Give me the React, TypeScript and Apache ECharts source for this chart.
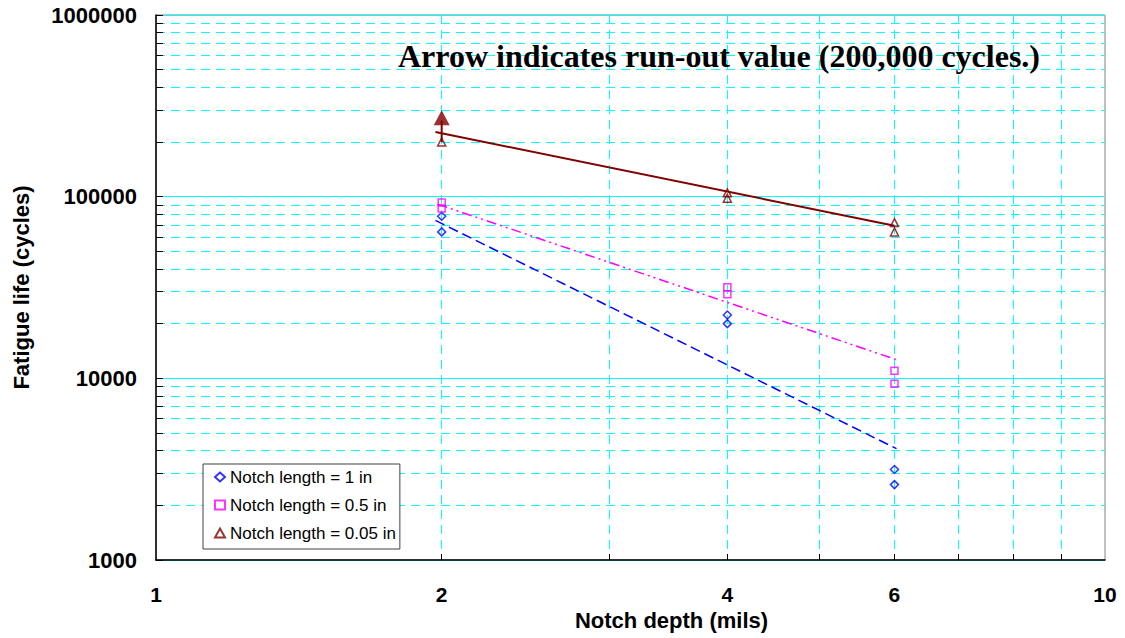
import React, { useEffect, useRef } from "react";
import * as echarts from "echarts";

// Notch depth (mils) axis: minor grid/tick positions and labelled values
const depthTicks = [2, 3, 4, 5, 6, 7, 8, 9];
const depthLabels = [1, 2, 4, 6, 10];

// Fatigue life (cycles) axis: labelled decades and minor grid values
const lifeDecades = [1000, 10000, 100000, 1000000];
const lifeMinor = [
  2000, 3000, 4000, 5000, 6000, 7000, 8000, 9000,
  20000, 30000, 40000, 50000, 60000, 70000, 80000, 90000,
  200000, 300000, 400000, 500000, 600000, 700000, 800000, 900000,
];

// Test results: [notch depth (mils), fatigue life (cycles)]
const notch1in: [number, number][] = [
  [2, 78000], [2, 64000],
  [4, 22300], [4, 20000],
  [6, 3150], [6, 2600],
];
const notch05in: [number, number][] = [
  [2, 93000], [2, 86000],
  [4, 31700], [4, 29000],
  [6, 11000], [6, 9350],
];
const notch005in: [number, number][] = [
  [2, 200000],
  [4, 105000], [4, 98000],
  [6, 72000], [6, 64000],
];

// Power-law trend lines (end points)
const trend1in: [number, number][] = [[1.97, 74000], [6.03, 4100]];
const trend05in: [number, number][] = [[1.98, 91000], [6.02, 12700]];
const trend005in: [number, number][] = [[1.97, 227000], [6, 69200]];

// Run-out arrow: shaft from the run-out value, head above it
const runOutShaft: [number, number][] = [[2, 200000], [2, 262000]];
const runOutHead: [number, number][] = [[2, 272000]];

const names = ["Notch length = 1 in", "Notch length = 0.5 in", "Notch length = 0.05 in"];

const SANS = '"Liberation Sans", Arial, sans-serif';
const SERIF = '"Liberation Serif", "Times New Roman", serif';
const CYAN = "#00FFFF";
const BLUE = "#0000FF";
const PINK = "#FF00FF";
const BROWN = "#800000";

const fmt = (v: number) => String(Math.round(v));

export default function App() {
  const ref = useRef<HTMLDivElement>(null);

  useEffect(() => {
    if (!ref.current) return;
    const chart = echarts.init(ref.current, undefined, { renderer: "svg" });

    const option: any = {
      animation: false,
      backgroundColor: "#fff",
      grid: {
        left: 156,
        top: 15,
        right: 20,
        bottom: 78,
        show: true,
        borderColor: "#808080",
        borderWidth: 1,
        backgroundColor: "transparent",
      },
      xAxis: {
        type: "log",
        logBase: 10,
        min: 1,
        max: 10,
        name: "Notch depth (mils)",
        nameLocation: "middle",
        nameGap: 41,
        nameTextStyle: {
          fontFamily: SANS,
          fontWeight: "bold",
          fontSize: 22,
          color: "#000",
          padding: [0, 0, 0, 82],
        },
        axisLine: { show: true, onZero: false, lineStyle: { color: "#000", width: 1.5 } },
        axisTick: {
          show: true,
          inside: true,
          length: 6,
          customValues: depthTicks,
          lineStyle: { color: "#000", width: 1 },
        },
        axisLabel: {
          customValues: depthLabels,
          margin: 24,
          fontFamily: SANS,
          fontWeight: "bold",
          fontSize: 21,
          color: "#000",
          formatter: fmt,
        },
        splitLine: { show: true, lineStyle: { color: CYAN, width: 1, type: [9, 6] } },
      },
      yAxis: [
        {
          type: "log",
          logBase: 10,
          min: 1000,
          max: 1000000,
          position: "left",
          name: "Fatigue life (cycles)",
          nameLocation: "middle",
          nameGap: 124,
          nameTextStyle: {
            fontFamily: SANS,
            fontWeight: "bold",
            fontSize: 22,
            color: "#000",
          },
          axisLine: { show: true, onZero: false, lineStyle: { color: "#000", width: 1.5 } },
          axisTick: {
            show: true,
            inside: true,
            length: 7,
            customValues: lifeDecades,
            lineStyle: { color: "#000", width: 1 },
          },
          axisLabel: {
            customValues: lifeDecades,
            margin: 19,
            fontFamily: SANS,
            fontWeight: "bold",
            fontSize: 22,
            color: "#000",
            formatter: fmt,
          },
          splitLine: { show: true, lineStyle: { color: CYAN, width: 1, type: "solid" } },
        },
        {
          type: "log",
          logBase: 10,
          min: 1000,
          max: 1000000,
          position: "left",
          axisLine: { show: false },
          axisLabel: { show: false },
          axisTick: {
            show: true,
            inside: true,
            length: 7,
            customValues: lifeMinor,
            lineStyle: { color: "#000", width: 1 },
          },
          splitLine: { show: true, lineStyle: { color: CYAN, width: 1, type: [9, 6] } },
        },
      ],
      legend: {
        data: names,
        orient: "vertical",
        left: 203,
        top: 464,
        backgroundColor: "#fff",
        borderColor: "#404040",
        borderWidth: 1,
        borderRadius: 0,
        padding: [3, 4, 6, 11],
        itemGap: 8,
        itemWidth: 10,
        itemHeight: 9,
        textStyle: { fontFamily: SANS, fontSize: 17, color: "#000", lineHeight: 20 },
      },
      graphic: [
        {
          type: "text",
          left: 398,
          top: 40,
          z: 10,
          style: {
            text: "Arrow indicates run-out value (200,000 cycles.)",
            font: `bold 32px ${SERIF}`,
            fill: "#000",
          },
        },
      ],
      series: [
        {
          name: names[0] + " trend",
          type: "line",
          data: trend1in,
          showSymbol: false,
          symbol: "none",
          lineStyle: { color: BLUE, width: 1.5, type: [10, 5] },
          silent: true,
          z: 3,
        },
        {
          name: names[1] + " trend",
          type: "line",
          data: trend05in,
          showSymbol: false,
          symbol: "none",
          lineStyle: { color: PINK, width: 1.5, type: [10, 4, 2, 4, 2, 4] },
          silent: true,
          z: 3,
        },
        {
          name: names[2] + " trend",
          type: "line",
          data: trend005in,
          showSymbol: false,
          symbol: "none",
          lineStyle: { color: BROWN, width: 2, type: "solid" },
          silent: true,
          z: 3,
        },
        {
          name: "run-out shaft",
          type: "line",
          data: runOutShaft,
          showSymbol: false,
          symbol: "none",
          lineStyle: { color: BROWN, width: 2, type: "solid" },
          silent: true,
          z: 3,
        },
        {
          name: "run-out head",
          type: "scatter",
          data: runOutHead,
          symbol: "triangle",
          symbolSize: [16, 15],
          itemStyle: { color: BROWN },
          silent: true,
          z: 4,
        },
        {
          name: names[0],
          type: "scatter",
          data: notch1in,
          symbol: "diamond",
          symbolSize: 8,
          itemStyle: { color: "transparent", borderColor: BLUE, borderWidth: 1.5 },
          z: 4,
        },
        {
          name: names[1],
          type: "scatter",
          data: notch05in,
          symbol: "rect",
          symbolSize: 7,
          itemStyle: { color: "transparent", borderColor: PINK, borderWidth: 1.5 },
          z: 4,
        },
        {
          name: names[2],
          type: "scatter",
          data: notch005in,
          symbol: "triangle",
          symbolSize: [8, 8],
          itemStyle: { color: "transparent", borderColor: BROWN, borderWidth: 1.5 },
          z: 4,
        },
      ],
    };

    chart.setOption(option);
    return () => chart.dispose();
  }, []);

  return (
    <div
      ref={ref}
      style={{ position: "fixed", left: 0, top: 0, width: 1125, height: 638, background: "#fff" }}
    />
  );
}
